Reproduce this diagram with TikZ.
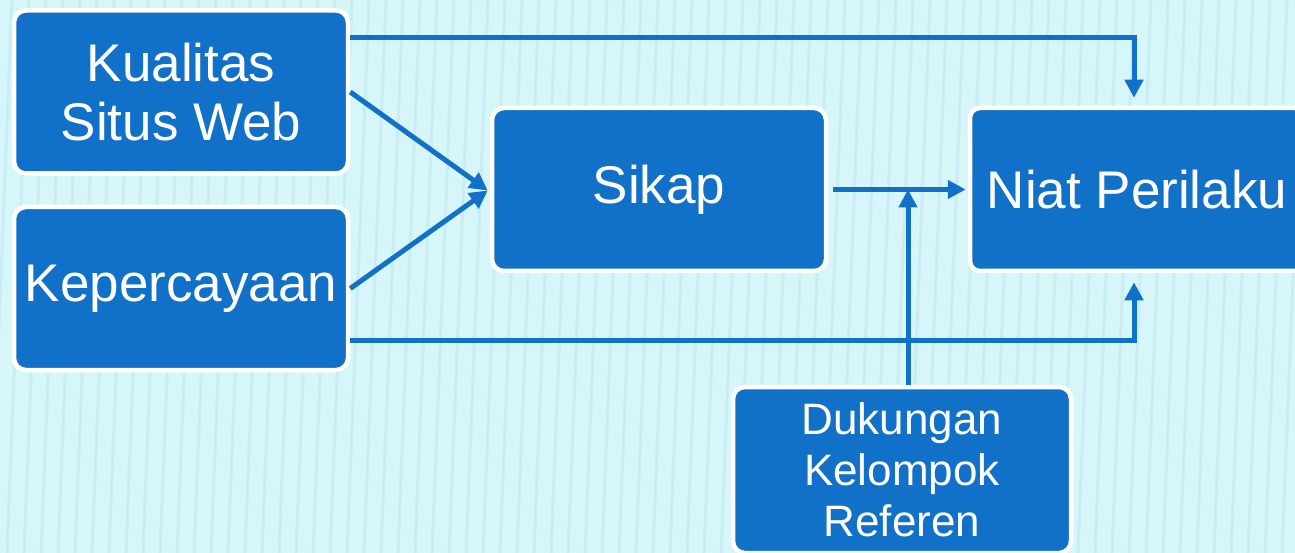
\documentclass[tikz,border=0pt]{standalone}
\usepackage{fontspec}
\setmainfont{Liberation Sans}
\usetikzlibrary{arrows.meta}
\definecolor{bg}{HTML}{D6F6FA}
\definecolor{stripe}{HTML}{BFE6EC}
\definecolor{boxblue}{HTML}{1170C8}
\tikzset{
  box/.style={draw=white, line width=4.5pt, fill=boxblue, rounded corners=12pt,
    text=white, align=center, inner sep=0pt, minimum width=334pt, minimum height=163pt,
    font=\fontsize{53}{59}\selectfont},
  link/.style={draw=boxblue, line width=5pt, -{Triangle[length=18pt,width=18pt]}}
}
\begin{document}
\begin{tikzpicture}[x=1pt,y=-1pt]
\useasboundingbox (0,0) rectangle (1295,553);
\clip (0,0) rectangle (1295,553);
\fill[bg] (0,0) rectangle (1295,553);
\foreach \i in {0,...,80} {
  \draw[stripe, line width=3pt, opacity=0.55] (\i*17-10,553) -- (\i*17+12,0);
}
\node[box] (kual) at (181,92) {Kualitas\\Situs Web};
\node[box] (kep) at (181,288.5) {Kepercayaan};
\node[box] (sikap) at (659,189.5) {Sikap};
\node[box, rounded corners=10pt] (niat) at (1137,189.5) {Niat Perilaku};
\node[box, minimum width=338pt, minimum height=166pt, font=\fontsize{44}{51}\selectfont] (dk) at (902,470) {Dukungan\\Kelompok\\Referen};
\draw[link] ([yshift=54pt]kual.east) -| ([shift={(-3pt,8pt)}]niat.north);
\draw[link] (kual.east) -- ([shift={(-2pt,-1pt)}]sikap.west);
\draw[link] (kep.east) -- ([shift={(-2pt,-1pt)}]sikap.west);
\draw[link] ([yshift=-52pt]kep.east) -| ([shift={(-3pt,-9pt)}]niat.south);
\draw[link] ([xshift=5pt]sikap.east) -- ([xshift=-2pt]niat.west);
\draw[link] ([xshift=6pt]dk.north) -- ([xshift=6pt]dk.north |- sikap.east);
\end{tikzpicture}
\end{document}
